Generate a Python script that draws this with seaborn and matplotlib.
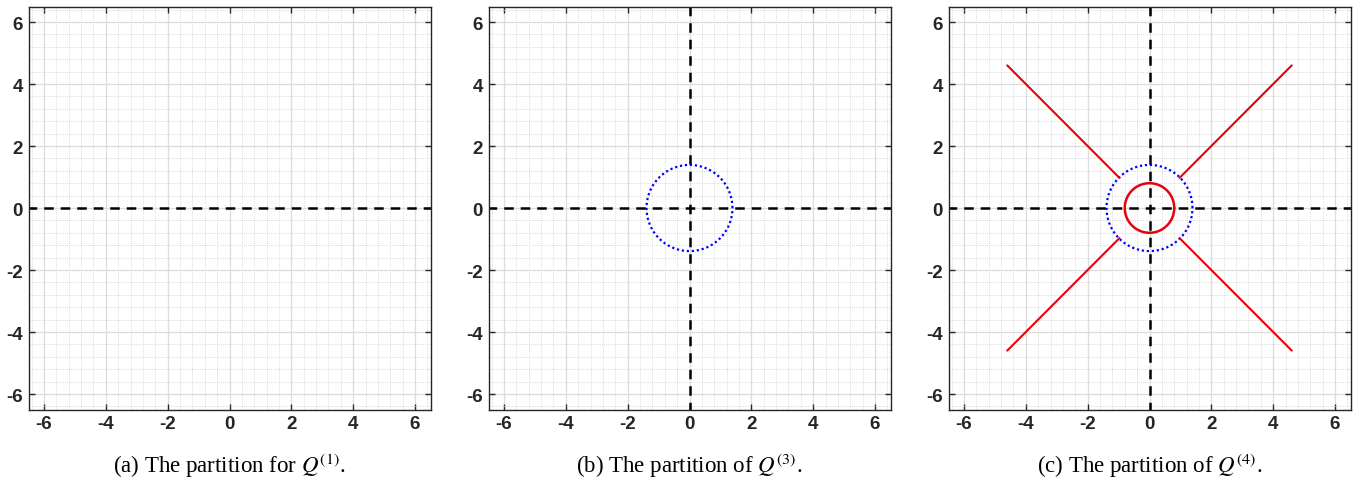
import numpy as np
import pandas as pd
import matplotlib
matplotlib.use("Agg")
import matplotlib.pyplot as plt
from matplotlib.ticker import MultipleLocator
import seaborn as sns

# Axis limits and ticks shared by the three panels
axis_limit = 6.5
tick_values = [-6, -4, -2, 0, 2, 4, 6]
minor_step = 0.4

# Partition boundaries
inner_radius_q4 = 0.8          # red circle in panel (c)
outer_radius = 1.39            # blue dotted circle in panels (b) and (c)
ray_start = 0.97               # red diagonal rays start on the outer circle
ray_end = 4.6                  # ... and end here
ray_signs_x = [1, -1, -1, 1]
ray_signs_y = [1, 1, -1, -1]

captions = [
    r"(a) The partition for $Q^{(1)}$.",
    r"(b) The partition of $Q^{(3)}$.",
    r"(c) The partition of $Q^{(4)}$.",
]

sns.set_theme(style="white")
plt.rcParams["mathtext.fontset"] = "stix"

fig = plt.figure(figsize=(13.64, 4.81), dpi=100)
lefts = [28.5 / 1364, 488.5 / 1364, 948.5 / 1364]
width = 402 / 1364
bottom = 1 - 410.5 / 481
height = 403 / 481
axes = [fig.add_axes([l, bottom, width, height]) for l in lefts]


def circle_frame(radius, n=400):
    t = np.linspace(0, 2 * np.pi, n)
    return pd.DataFrame({"x": radius * np.cos(t), "y": radius * np.sin(t)})


def draw(ax, df, **kw):
    sns.lineplot(data=df, x="x", y="y", ax=ax, sort=False, estimator=None,
                 errorbar=None, **kw)


def style_axes(ax):
    ax.set_xlim(-axis_limit, axis_limit)
    ax.set_ylim(-axis_limit, axis_limit)
    ax.set_xticks(tick_values)
    ax.set_yticks(tick_values)
    tick_font = dict(fontweight="bold", family="Liberation Sans",
                     fontsize=13.5, color="#262626")
    ax.set_xticklabels([str(v) for v in tick_values], **tick_font)
    ax.set_yticklabels([str(v) for v in tick_values], **tick_font)
    ax.xaxis.set_minor_locator(MultipleLocator(minor_step))
    ax.yaxis.set_minor_locator(MultipleLocator(minor_step))
    ax.grid(which="major", color="#dcdcdc", linewidth=0.9, linestyle="-")
    ax.grid(which="minor", color="#cfcfcf", linewidth=0.6, linestyle=(0, (1, 1.5)))
    ax.set_axisbelow(True)
    ax.tick_params(which="major", direction="in", length=4, width=1.0,
                   top=True, right=True, bottom=True, left=True,
                   color="#262626", pad=4)
    ax.tick_params(which="minor", length=0)
    for sp in ax.spines.values():
        sp.set_visible(True)
        sp.set_color("#262626")
        sp.set_linewidth(1.0)
    ax.set_xlabel("")
    ax.set_ylabel("")


dash = (0.7, (3.8, 2.8))
blue_dots = (0, (1.0, 1.25))
red = "#e8000b"
axis_line = pd.DataFrame({"x": [-axis_limit, axis_limit], "y": [0, 0]})
axis_vline = pd.DataFrame({"x": [0, 0], "y": [-axis_limit, axis_limit]})

black_kw = dict(color="black", linewidth=1.8, linestyle=dash)
blue_kw = dict(color="blue", linewidth=1.6, linestyle=blue_dots)

# (a) only the horizontal axis line
draw(axes[0], axis_line, **black_kw)

# (b) both axis lines and the outer circle
ax = axes[1]
draw(ax, axis_line, **black_kw)
draw(ax, axis_vline, **black_kw)
draw(ax, circle_frame(outer_radius), **blue_kw)

# (c) axis lines, outer circle, inner circle and four rays
ax = axes[2]
draw(ax, axis_line, **black_kw)
draw(ax, axis_vline, **black_kw)
draw(ax, circle_frame(outer_radius), **blue_kw)
draw(ax, circle_frame(inner_radius_q4), color=red, linewidth=1.8)
for sx, sy in zip(ray_signs_x, ray_signs_y):
    ray = pd.DataFrame({"x": [sx * ray_start, sx * ray_end],
                        "y": [sy * ray_start, sy * ray_end]})
    draw(ax, ray, color=red, linewidth=1.5)

for ax, cap in zip(axes, captions):
    style_axes(ax)
    pos = ax.get_position()
    fig.text(pos.x0 + pos.width / 2, 1 - 466 / 481, cap, ha="center",
             va="center", fontsize=16.5, family="Liberation Serif", color="black")

fig.savefig("out.png", dpi=100)
